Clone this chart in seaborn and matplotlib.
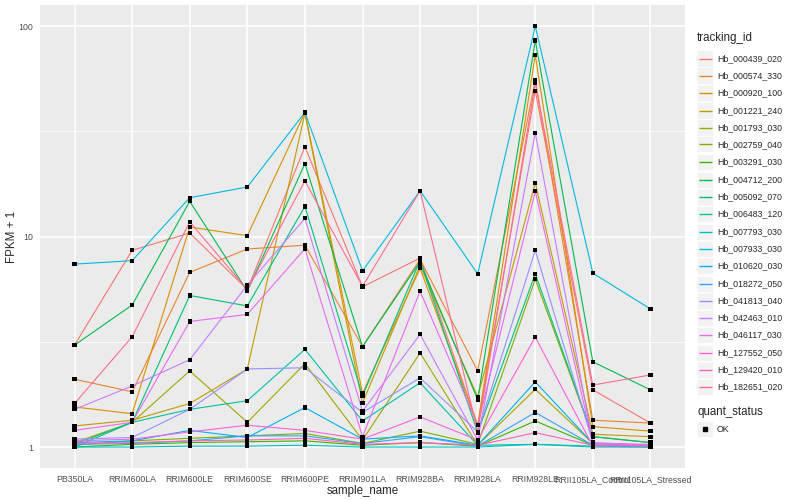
import matplotlib
matplotlib.use("Agg")
import matplotlib.pyplot as plt
import seaborn as sns
import pandas as pd
import numpy as np
from matplotlib.patches import Rectangle
from matplotlib.lines import Line2D

samples = ["PB350LA", "RRIM600LA", "RRIM600LE", "RRIM600SE", "RRIM600PE", "RRIM901LA",
           "RRIM928BA", "RRIM928LA", "RRIM928LE", "RRII105LA_Control", "RRII105LA_Stressed"]

tracking_ids = ["Hb_000439_020", "Hb_000574_330", "Hb_000920_100", "Hb_001221_240",
                "Hb_001793_030", "Hb_002759_040", "Hb_003291_030", "Hb_004712_200",
                "Hb_005092_070", "Hb_006483_120", "Hb_007793_030", "Hb_007933_030",
                "Hb_010620_030", "Hb_018272_050", "Hb_041813_040", "Hb_042463_010",
                "Hb_046117_030", "Hb_127552_050", "Hb_129420_010", "Hb_182651_020"]

palette = ["#F8766D", "#EA8331", "#D89000", "#C09B00", "#A3A500", "#7CAE00", "#39B600",
           "#00BB4E", "#00BF7D", "#00C1A3", "#00BFC4", "#00BAE0", "#00B0F6", "#35A2FF",
           "#9590FF", "#C77CFF", "#E76BF3", "#FA62DB", "#FF62BC", "#FF6C91"]

# FPKM + 1 per sample (same order as samples)
v_000439_020 = [3.05, 8.6, 10.4, 5.6, 26.7, 5.77, 7.9, 1.27, 49.3, 1.87, 1.3]
v_000574_330 = [2.1, 1.83, 6.76, 8.73, 9.1, 3.0, 7.8, 2.3, 55.4, 1.34, 1.3]
v_000920_100 = [1.55, 1.44, 11.1, 10.1, 38.9, 1.8, 7.06, 1.27, 72.8, 1.25, 1.19]
v_001221_240 = [1.26, 1.34, 1.61, 2.35, 38.5, 1.62, 7.3, 1.73, 18.0, 1.15, 1.12]
v_001793_030 = [1.05, 1.31, 2.3, 1.31, 2.49, 1.08, 2.8, 1.02, 1.88, 1.04, 1.02]
v_002759_040 = [1.02, 1.07, 1.1, 1.13, 1.16, 1.04, 1.19, 1.03, 6.27, 1.12, 1.05]
v_003291_030 = [1.0, 1.03, 1.05, 1.06, 1.07, 1.02, 1.05, 1.01, 1.33, 1.02, 1.01]
v_004712_200 = [3.05, 4.73, 14.7, 5.5, 22.2, 3.0, 7.6, 1.68, 85.5, 2.54, 1.87]
v_005092_070 = [1.03, 1.31, 5.25, 4.68, 13.9, 1.75, 7.7, 1.17, 6.65, 1.12, 1.05]
v_006483_120 = [1.0, 1.31, 1.51, 1.66, 2.91, 1.33, 2.02, 1.02, 1.03, 1.01, 1.0]
v_007793_030 = [1.0, 1.0, 1.01, 1.01, 1.02, 1.0, 1.0, 1.0, 1.03, 1.0, 1.0]
v_007933_030 = [7.4, 7.68, 15.3, 17.2, 38.9, 6.88, 16.5, 6.65, 100.0, 6.7, 4.53]
v_010620_030 = [1.05, 1.07, 1.2, 1.11, 1.54, 1.09, 1.13, 1.02, 2.04, 1.04, 1.02]
v_018272_050 = [1.03, 1.04, 1.07, 1.13, 1.13, 1.04, 1.12, 1.01, 1.46, 1.02, 1.01]
v_041813_040 = [1.09, 1.11, 1.51, 2.35, 2.38, 1.46, 2.13, 1.18, 8.6, 1.05, 1.02]
v_042463_010 = [1.51, 1.95, 2.6, 5.88, 12.2, 1.48, 3.43, 1.08, 31.1, 1.04, 1.03]
v_046117_030 = [1.2, 1.31, 3.95, 4.27, 8.75, 1.12, 5.5, 1.27, 16.4, 1.04, 1.02]
v_127552_050 = [1.07, 1.09, 1.18, 1.27, 1.2, 1.09, 1.39, 1.08, 3.33, 1.01, 1.02]
v_129420_010 = [1.04, 1.05, 1.07, 1.08, 1.1, 1.03, 1.05, 1.02, 1.17, 1.02, 1.01]
v_182651_020 = [1.61, 3.34, 11.75, 5.6, 18.4, 5.8, 16.5, 1.18, 53.8, 1.97, 2.2]

values = [v_000439_020, v_000574_330, v_000920_100, v_001221_240, v_001793_030,
          v_002759_040, v_003291_030, v_004712_200, v_005092_070, v_006483_120,
          v_007793_030, v_007933_030, v_010620_030, v_018272_050, v_041813_040,
          v_042463_010, v_046117_030, v_127552_050, v_129420_010, v_182651_020]

rows = []
for tid, vals in zip(tracking_ids, values):
    for s, v in zip(samples, vals):
        rows.append({"tracking_id": tid, "sample_name": s, "fpkm1": v, "quant_status": "OK"})
df = pd.DataFrame(rows)
df["sample_name"] = pd.Categorical(df["sample_name"], categories=samples, ordered=True)
df["xpos"] = df["sample_name"].cat.codes

sns.set_style("darkgrid")
plt.rcParams["font.family"] = ["Liberation Sans", "DejaVu Sans"]

fig = plt.figure(figsize=(8, 5), dpi=100)
ax = fig.add_axes([40 / 800, 32 / 500, 645 / 800, 463 / 500])
ax.set_facecolor("#EBEBEB")

sns.lineplot(data=df, x="xpos", y="fpkm1", hue="tracking_id", hue_order=tracking_ids,
             palette=palette, linewidth=0.8, legend=False, ax=ax, sort=True, estimator=None)
sns.scatterplot(data=df, x="xpos", y="fpkm1", color="black", s=9, marker="s",
                edgecolor="none", legend=False, ax=ax, zorder=5)

ax.set_yscale("log")
ax.set_yticks([1, 10, 100])
ax.set_yticklabels(["1", "10", "100"])
ax.set_yticks([10 ** 0.5, 10 ** 1.5], minor=True)
ax.yaxis.set_minor_formatter(plt.NullFormatter())
ax.set_xticks(range(len(samples)))
ax.set_xticklabels(samples)
ax.set_ylim(0.795, 126)
ax.set_xlim(-0.6, len(samples) - 1 + 0.6)

ax.grid(True, which="major", color="white", linewidth=1.1)
ax.grid(True, which="minor", axis="y", color="white", linewidth=0.55)
ax.grid(False, which="minor", axis="x")
ax.set_axisbelow(True)
for sp in ax.spines.values():
    sp.set_visible(False)
ax.tick_params(axis="both", which="major", length=3, width=0.6, color="#333333",
               labelsize=6.3, labelcolor="#4D4D4D", pad=2)
ax.tick_params(axis="y", which="minor", length=0)
ax.set_xlabel("sample_name", fontsize=8.3, labelpad=1)
ax.set_ylabel("FPKM + 1", fontsize=8.3)
ax.yaxis.set_label_coords(-0.034, 0.5)

# legend (drawn manually, ggplot style)
def fx(px):
    return px / 800
def fy(py):
    return 1 - py / 500

fig.text(fx(697), fy(38), "tracking_id", fontsize=8.3, va="center", ha="left")
key_top = 49
key_h = 17.3
for i, (tid, col) in enumerate(zip(tracking_ids, palette)):
    yc = round(key_top + i * key_h + key_h / 2) + 0.5
    fig.patches.append(Rectangle((fx(697), fy(yc + 8)), 16 / 800, 16 / 500,
                                 transform=fig.transFigure, facecolor="#F2F2F2",
                                 edgecolor="white", linewidth=0.5, zorder=1))
    fig.lines.append(Line2D([fx(698.5), fx(711.5)], [fy(yc), fy(yc)],
                            transform=fig.transFigure, color=col, linewidth=1.0,
                            zorder=3, solid_capstyle="butt"))
    fig.text(fx(717), fy(yc), tid, fontsize=6.3, va="center", ha="left")

fig.text(fx(697), fy(412), "quant_status", fontsize=8.3, va="center", ha="left")
yc = 429
fig.patches.append(Rectangle((fx(697), fy(yc + 8)), 16 / 800, 16 / 500,
                             transform=fig.transFigure, facecolor="#F2F2F2",
                             edgecolor="white", linewidth=0.5))
fig.lines.append(Line2D([fx(705)], [fy(yc)], transform=fig.transFigure, marker="s",
                        markersize=2.3, color="black", linestyle="none", zorder=3))
fig.text(fx(717), fy(yc), "OK", fontsize=6.3, va="center", ha="left")

fig.savefig("out.png", dpi=100, facecolor="white")
